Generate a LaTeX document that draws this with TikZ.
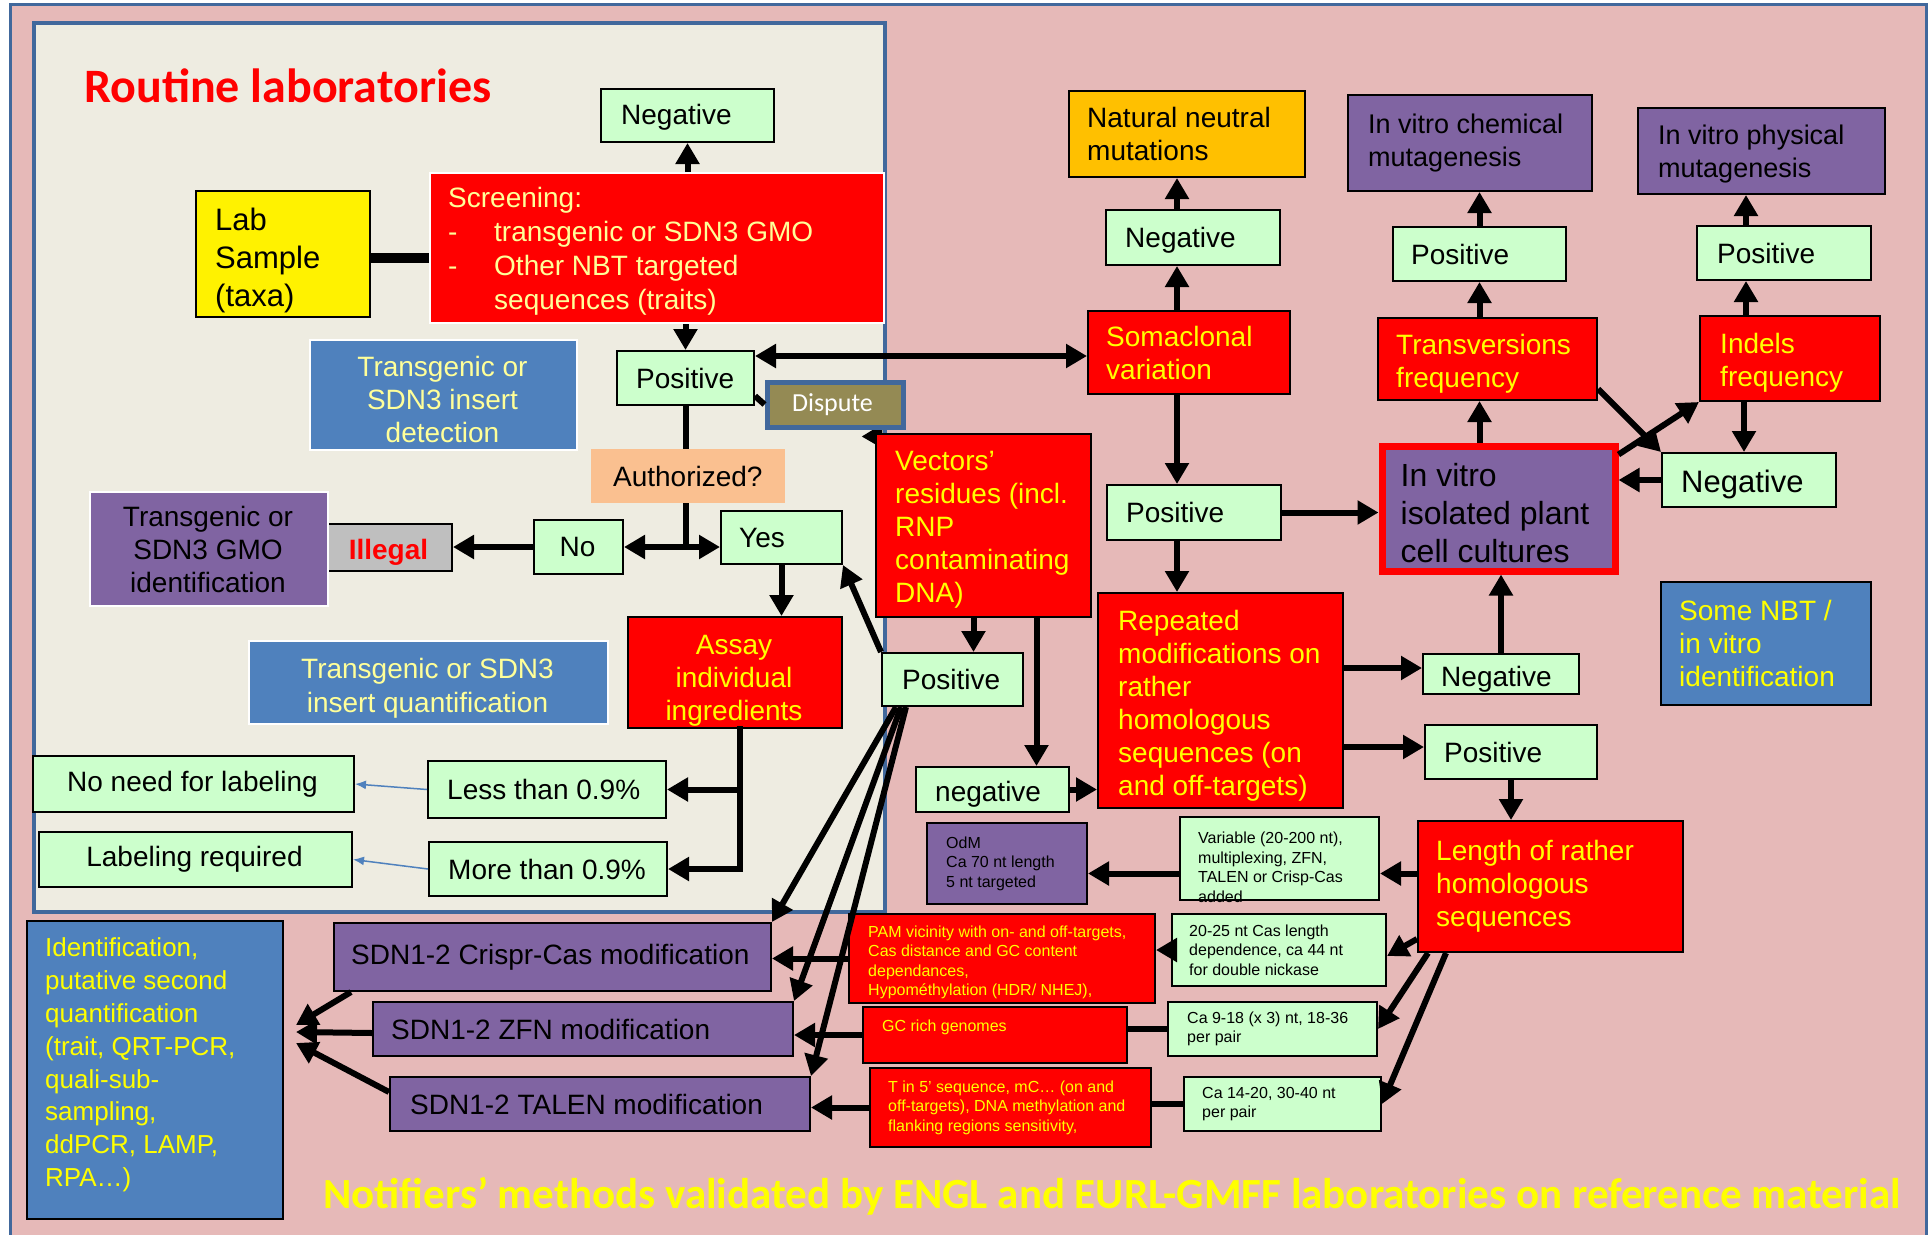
\documentclass[tikz,border=0pt]{standalone}
\usepackage{fontspec}
\setmainfont{Liberation Sans}
\newfontfamily\carl{Carlito}
\usetikzlibrary{arrows.meta}
\pgfdeclarelayer{back}
\pgfdeclarelayer{mid}
\pgfsetlayers{back,mid,main}

\definecolor{pinkbg}{HTML}{E6B9B8}
\definecolor{cream}{HTML}{EEECE1}
\definecolor{lgreen}{HTML}{CCFFCC}
\definecolor{purp}{HTML}{8064A2}
\definecolor{bluebx}{HTML}{4F81BD}
\definecolor{frameblue}{HTML}{41689C}
\definecolor{orng}{HTML}{FFC000}
\definecolor{peach}{HTML}{FAC090}
\definecolor{greybx}{HTML}{BFBFBF}
\definecolor{olive}{HTML}{948A54}
\definecolor{yel}{HTML}{FFFF00}
\definecolor{paleyel}{HTML}{FFFF99}

\newcommand\fs[2]{\fontsize{#1pt}{#2pt}\selectfont}
% \bx{name}{box style}{text style}{x1}{y1}{x2}{y2}{text}
\newcommand\bx[8]{%
  \pgfmathsetmacro\bxw{#6-#4}%
  \pgfmathsetmacro\bxh{#7-#5}%
  \pgfmathsetmacro\bxcx{(#4+#6)/2}%
  \pgfmathsetmacro\bxcy{(#5+#7)/2}%
  \pgfmathsetmacro\bxhw{(#6-#4)/2}%
  \node[#2, minimum width=\bxw pt, minimum height=\bxh pt, inner sep=0pt] (#1) at (\bxcx,\bxcy) {};%
  \node[inner sep=0pt, #3] (#1-t) at (#1.west) {#8};}

\tikzset{
  gbox/.style={draw=black, line width=2pt, fill=lgreen},
  rbox/.style={draw=black, line width=2pt, fill=red},
  pbox/.style={draw=black, line width=2pt, fill=purp},
  bbox/.style={draw=black, line width=2pt, fill=bluebx},
  ybox/.style={draw=black, line width=2pt, fill=yellow},
  obox/.style={draw=black, line width=2pt, fill=orng},
  abox/.style={fill=peach},
  greyb/.style={draw=black, line width=2pt, fill=greybx},
  dbox/.style={draw=frameblue, line width=5pt, fill=olive},
  ivbox/.style={draw=red, line width=7pt, fill=purp},
  tl/.style={anchor=west, xshift=#1pt, align=left},
  tc/.style={anchor=center, xshift=\bxhw pt, align=center},
  t28/.style={font=\fs{28}{33}},
  t27/.style={font=\fs{27}{33}},
  t16/.style={font=\fs{16}{19.5}},
  arr/.style={line width=6pt, -{Triangle[length=21pt,width=23pt]}},
  dbl/.style={line width=6pt, {Triangle[length=21pt,width=23pt]}-{Triangle[length=21pt,width=23pt]}},
  ln/.style={line width=6pt},
  barr/.style={line width=1.5pt, draw=bluebx, -{Latex[length=11pt,width=9pt]}},
}

\begin{document}
\begin{tikzpicture}[x=1pt,y=-1pt]
\useasboundingbox (0,0) rectangle (1932,1234);

\begin{pgfonlayer}{back}
  \fill[white] (0,0) rectangle (1932,1234);
  \draw[frameblue, line width=3pt, fill=pinkbg] (10,4) rectangle (1926,1250);
  \draw[frameblue, line width=4pt, fill=cream] (34,23) rectangle (885,912);
\end{pgfonlayer}

\node[anchor=west, inner sep=0pt, font=\carl\bfseries\fs{48}{52}, text=red] (title) at (84,86) {Routine laboratories};

% ---- routine laboratory flow ----
\bx{neg1}{gbox}{tl=21, t28, yshift=-2pt}{601}{89}{774}{142}{Negative}
\bx{scr}{rbox, draw=white}{tl=19, font=\fs{28}{34}, text=paleyel, yshift=-3pt}{430}{173}{884}{323}{Screening:\\\makebox[46pt][l]{-}transgenic or SDN3 GMO\\\makebox[46pt][l]{-}Other NBT targeted\\\hspace*{46pt}sequences (traits)}
\bx{lab}{ybox}{tl=20, font=\fs{31}{38}, yshift=-6pt}{196}{191}{370}{317}{Lab\\Sample\\(taxa)}
\bx{pos1}{gbox}{tl=20, t28}{617}{351}{754}{405}{Positive}
\bx{ins}{bbox, draw=white}{tc, t28, text=paleyel, yshift=-4pt}{310}{340}{577}{450}{Transgenic or\\SDN3 insert\\detection}
\bx{disp}{dbox}{tc, font=\carl\fs{26}{30}, text=white}{767}{382}{903}{427}{Dispute}
\bx{auth}{abox}{tc, t28}{591}{449}{785}{503}{Authorized?}
\bx{nobox}{gbox}{tc, t28}{534}{520}{623}{574}{No}
\bx{yesbox}{gbox}{tl=19, t28}{721}{511}{842}{564}{Yes}
\bx{ill}{greyb}{tc, font=\bfseries\fs{28}{32}, text=red, yshift=-5pt}{327}{524}{452}{571}{Illegal}
\bx{gmo}{pbox, draw=white}{tc, t28}{90}{492}{328}{606}{Transgenic or\\SDN3 GMO\\identification}
\bx{assay}{rbox}{tc, t28, text=yel, yshift=-8pt}{628}{617}{842}{728}{Assay\\individual\\ingredients}
\bx{quant}{bbox, draw=white}{tc, font=\fs{28}{34}, text=paleyel, yshift=-6pt}{249}{641}{608}{724}{Transgenic or SDN3\\insert quantification}
\bx{nolab}{gbox}{tc, t28}{33}{756}{354}{812}{No need for labeling}
\bx{less}{gbox}{tl=20, t28}{428}{761}{666}{818}{Less than 0.9\%}
\bx{labreq}{gbox}{tc, t28}{39}{832}{352}{887}{Labeling required}
\bx{more}{gbox}{tl=20, t28}{429}{842}{667}{896}{More than 0.9\%}

% ---- NBT / in vitro flow ----
\bx{nat}{obox}{tl=19, t28}{1069}{91}{1305}{177}{Natural neutral\\mutations}
\bx{neg2}{gbox}{tl=20, t28, yshift=-3pt}{1106}{210}{1280}{265}{Negative}
\bx{soma}{rbox}{tl=19, t28, text=yel}{1088}{311}{1290}{394}{Somaclonal\\variation}
\bx{pos2}{gbox}{tl=20, t28}{1107}{485}{1281}{540}{Positive}
\bx{chem}{pbox}{tl=21, t27}{1348}{95}{1592}{191}{In vitro chemical\\mutagenesis}
\bx{pos3}{gbox}{tl=19, t28}{1393}{227}{1566}{281}{Positive}
\bx{trans}{rbox}{tl=19, t28, text=yel, yshift=-5pt}{1378}{318}{1597}{400}{Transversions\\frequency}
\bx{phys}{pbox}{tl=21, t27, yshift=-3pt}{1638}{108}{1885}{194}{In vitro physical\\mutagenesis}
\bx{pos4}{gbox}{tl=21, t28}{1697}{226}{1871}{280}{Positive}
\bx{indel}{rbox}{tl=21, t28, text=yel, yshift=-4pt}{1700}{316}{1880}{401}{Indels\\frequency}
\bx{ivc}{ivbox}{tl=22, font=\fs{32}{38}, yshift=-5pt}{1382}{446}{1615}{571}{In vitro\\isolated plant\\cell cultures}
\bx{neg3}{gbox}{tl=20, font=\fs{31}{36}, yshift=-4pt}{1662}{453}{1836}{507}{Negative}
\bx{nbt}{bbox}{tl=19, t28, text=yel}{1661}{582}{1871}{705}{Some NBT /\\in vitro\\identification}
\bx{vec}{rbox}{tl=20, t28, text=yel, yshift=-4pt}{876}{434}{1091}{617}{Vectors’\\residues (incl.\\RNP\\contaminating\\DNA)}
\bx{pos5}{gbox}{tl=21, t28}{882}{653}{1023}{706}{Positive}
\bx{neg4}{gbox}{tl=20, t28, yshift=-5pt}{916}{767}{1069}{812}{negative}
\bx{rep}{rbox}{tl=21, t28, text=yel, yshift=-5pt}{1098}{593}{1343}{808}{Repeated\\modifications on\\rather\\homologous\\sequences (on\\and off-targets)}
\bx{neg5}{gbox}{tl=19, t28, yshift=-5pt}{1423}{654}{1579}{694}{Negative}
\bx{pos6}{gbox}{tl=20, t28}{1425}{725}{1597}{779}{Positive}
\bx{len}{rbox}{tl=19, t28, text=yel}{1418}{821}{1683}{952}{Length of rather\\homologous\\sequences}
\bx{var}{gbox}{tl=19, t16, yshift=-9pt}{1180}{817}{1379}{900}{Variable (20-200 nt),\\multiplexing, ZFN,\\TALEN or Crisp-Cas\\added}
\bx{odm}{pbox}{tl=20, t16}{927}{823}{1087}{904}{OdM\\Ca 70 nt length\\5 nt targeted}
\bx{c2025}{gbox}{tl=18, t16}{1172}{914}{1386}{986}{20-25 nt Cas length\\dependence, ca 44 nt\\for double nickase}
\bx{ca918}{gbox}{tl=20, t16}{1168}{1002}{1377}{1056}{Ca 9-18 (x 3) nt, 18-36\\per pair}
\bx{ca1420}{gbox}{tl=19, t16}{1184}{1077}{1381}{1131}{Ca 14-20, 30-40 nt\\per pair}
\bx{pam}{rbox}{tl=20, t16, text=yel, yshift=-4pt}{849}{914}{1155}{1003}{PAM vicinity with on- and off-targets,\\Cas distance and GC content\\dependances,\\Hypométhylation (HDR/ NHEJ),}
\bx{gc}{rbox}{tl=20, t16, text=yel, yshift=8pt}{863}{1007}{1127}{1063}{GC rich genomes}
\bx{tin5}{rbox}{tl=19, t16, text=yel}{870}{1068}{1151}{1147}{T in 5’ sequence, mC… (on and\\off-targets), DNA methylation and\\flanking regions sensitivity,}
\bx{crispr}{pbox}{tl=18, t28}{334}{923}{771}{991}{SDN1-2 Crispr-Cas modification}
\bx{zfn}{pbox}{tl=19, t28}{373}{1002}{793}{1056}{SDN1-2 ZFN modification}
\bx{talen}{pbox}{tl=21, t28}{390}{1077}{810}{1131}{SDN1-2 TALEN modification}
\bx{ident}{bbox}{tl=19, font=\fs{26}{32.8}, text=yel, yshift=5pt}{27}{921}{283}{1219}{Identification,\\putative second\\quantification\\(trait, QRT-PCR,\\quali-sub-\\sampling,\\ddPCR, LAMP,\\RPA…)}

\node[anchor=base west, inner sep=0pt, font=\carl\bfseries\fs{43}{47}, text=yel] (foot) at (323,1208) {Notifiers’ methods validated by ENGL and EURL-GMFF laboratories on reference material};

% partly hidden arrow between the vectors box and the dispute box
\begin{pgfonlayer}{mid}
  \draw[arr] ([xshift=30pt,yshift=-3pt]vec.north west) -- ([xshift=-44pt,yshift=-7pt]disp.south east);
\end{pgfonlayer}

% ---- connectors: routine laboratory ----
\coordinate (c1) at ([yshift=-4pt]lab.east);
\draw[line width=10pt] (c1) -- (c1 -| scr.west);
\draw[arr] (scr.north -| neg1.south) -- (neg1.south);
\draw[arr] (scr.south -| pos1.north) -- (pos1.north);
\coordinate (c2) at ([yshift=-6pt]pos1.north east);
\draw[dbl] (c2) -- (c2 -| soma.west);
\draw[ln] ([yshift=10pt]pos1.south east) -- (disp.west);
\draw[ln] (pos1.south) -- (pos1.south |- auth.north);
\coordinate (c3) at (pos1.south |- nobox.east);
\draw[ln] (pos1.south |- auth.south) -- (c3);
\draw[dbl] (nobox.east) -- (nobox.east -| yesbox.west);
\draw[arr] (nobox.west) -- (nobox.west -| ill.east);
\draw[arr] (yesbox.south) -- (yesbox.south |- assay.north);
\coordinate (c4) at ([xshift=5pt]assay.south);
\draw[ln, line cap=rect] (c4) -- (c4 |- more.east);
\draw[arr] (c4 |- less.east) -- (less.east);
\draw[arr] (c4 |- more.east) -- (more.east);
\draw[barr] (less.west) -- (nolab.east);
\draw[barr] (more.west) -- (labreq.east);

% ---- connectors: vectors' residues ----
\draw[arr] (pos5.north west) -- (yesbox.south east);
\coordinate (c5) at ([xshift=-10pt]vec.south);
\draw[arr] (c5) -- (c5 |- pos5.north);
\coordinate (c6) at ([xshift=53pt]vec.south);
\draw[arr] (c6) -- (c6 |- neg4.north);
\draw[arr] (neg4.east) -- (neg4.east -| rep.west);
\draw[arr] ([xshift=15pt]pos5.south west) -- (crispr.north east);
\draw[arr] ([xshift=20pt]pos5.south west) -- (zfn.north east);
\draw[arr] ([xshift=25pt]pos5.south west) -- (talen.north east);

% ---- connectors: somaclonal variation ----
\coordinate (c7) at ([xshift=-12pt]soma.north);
\draw[arr] (c7) -- (c7 |- neg2.south);
\draw[arr] (c7 |- neg2.north) -- (c7 |- nat.south);
\coordinate (c8) at ([xshift=-12pt]soma.south);
\draw[arr] (c8) -- (c8 |- pos2.north);
\draw[arr] (pos2.east) -- (pos2.east -| ivc.west);
\draw[arr] (c8 |- pos2.south) -- (c8 |- rep.north);

% ---- connectors: mutagenesis ----
\draw[arr] (trans.north -| pos3.south) -- (pos3.south);
\draw[arr] (pos3.north) -- (pos3.north |- chem.south);
\coordinate (c9) at ([xshift=47pt]indel.north west);
\draw[arr] (c9) -- (c9 |- pos4.south);
\draw[arr] (c9 |- pos4.north) -- (c9 |- phys.south);
\coordinate (c10) at ([xshift=45pt]indel.south west);
\draw[arr] (c10) -- (c10 |- neg3.north);
\draw[arr] (neg3.west) -- (neg3.west -| ivc.east);
\draw[arr] (ivc.north -| pos3.south) -- (trans.south -| pos3.south);
\draw[arr] ([yshift=-12pt]ivc.north east) -- (indel.south west);
\draw[arr] ([yshift=12pt]trans.south east) -- (neg3.north west);

% ---- connectors: repeated modifications ----
\coordinate (c11) at ([yshift=6pt]neg5.west);
\draw[arr] (c11 -| rep.east) -- (c11);
\coordinate (c12) at ([yshift=5pt]pos6.west);
\draw[arr] (c12 -| rep.east) -- (c12);
\draw[arr] (neg5.north) -- (neg5.north |- ivc.south);
\draw[arr] (pos6.south) -- (pos6.south |- len.north);

% ---- connectors: homologous sequence length ----
\coordinate (c13) at ([yshift=13pt]len.west);
\draw[arr] (c13) -- (c13 -| var.east);
\draw[arr] (c13 -| var.west) -- (c13 -| odm.east);
\draw[arr] ([yshift=14pt]len.south west) -- ([yshift=-6pt]c2025.east);
\draw[arr] ([xshift=11pt]len.south west) -- (ca918.east);
\draw[arr] ([xshift=29pt]len.south west) -- (ca1420.east);
\draw[arr] (c2025.west) -- (c2025.west -| pam.east);
\draw[ln] (ca918.west) -- (ca918.west -| gc.east);
\draw[ln] (ca1420.west) -- (ca1420.west -| tin5.east);
\draw[arr] (pam.west) -- (pam.west -| crispr.east);
\draw[arr] (gc.west) -- (gc.west -| zfn.east);
\draw[arr] (tin5.west) -- (tin5.west -| talen.east);

% ---- connectors: identification ----
\draw[arr] ([xshift=18pt]crispr.south west) -- ([xshift=12pt,yshift=45pt]ident.east);
\draw[arr] ([yshift=-4pt]zfn.west) -- ([xshift=12pt,yshift=38pt]ident.east);
\draw[arr] ([yshift=12pt]talen.west) -- ([xshift=12pt,yshift=27pt]ident.east);
\end{tikzpicture}
\end{document}
